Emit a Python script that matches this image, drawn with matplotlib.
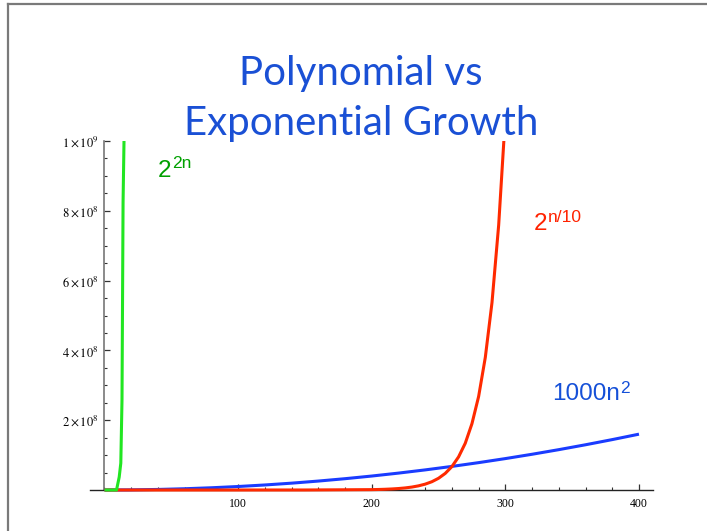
import matplotlib
matplotlib.use("Agg")
import matplotlib.pyplot as plt
from matplotlib.ticker import MultipleLocator, FixedLocator

# Sampled values of the three growth curves
n_exp4 = [0, 9.0, 11.0, 12.2, 13.1, 13.9, 14.6]
v_exp4 = [0, 0, 3.7e7, 7.7e7, 2.58e8, 8.25e8, 1.0e9]

n_exp2 = [0, 100, 150, 200, 205, 210, 215, 220, 225, 230, 235, 240, 245, 250,
          255, 260, 265, 270, 275, 280, 285, 290, 295, 300]
v_exp2 = [1, 1.0e3, 3.3e4, 1.05e6, 1.48e6, 2.10e6, 2.97e6, 4.19e6, 5.93e6,
          8.39e6, 1.19e7, 1.68e7, 2.37e7, 3.36e7, 4.75e7, 6.71e7, 9.49e7,
          1.34e8, 1.90e8, 2.68e8, 3.80e8, 5.37e8, 7.59e8, 1.07e9]

n_poly = [0, 20, 40, 60, 80, 100, 120, 140, 160, 180, 200, 220, 240, 260, 280,
          300, 320, 340, 360, 380, 400]
v_poly = [0, 4e5, 1.6e6, 3.6e6, 6.4e6, 1.0e7, 1.44e7, 1.96e7, 2.56e7, 3.24e7,
          4.0e7, 4.84e7, 5.76e7, 6.76e7, 7.84e7, 9.0e7, 1.024e8, 1.156e8,
          1.296e8, 1.444e8, 1.6e8]

x_ticks = [100, 200, 300, 400]
y_ticks = [2e8, 4e8, 6e8, 8e8, 1e9]
y_tick_labels = [r"$2\times10^{8}$", r"$4\times10^{8}$", r"$6\times10^{8}$",
                 r"$8\times10^{8}$", r"$1\times10^{9}$"]

plt.rcParams["mathtext.fontset"] = "stix"

W, H = 707, 531
fig = plt.figure(figsize=(W / 100, H / 100), dpi=100)
fig.patch.set_facecolor("white")

# slide frame (left and top edges)
frame_kw = dict(color="#7a7a7a", lw=1.6, transform=None)
fig.add_artist(plt.Line2D([8, 8], [0, H - 4], **frame_kw))
fig.add_artist(plt.Line2D([8, W], [H - 4, H - 4], **frame_kw))

x0, x1 = -10.85, 410.5
px_left, px_right, px_top, px_bot = 90, 653, 141, 492
y_bot = -(px_bot - 490) / 349 * 1e9
ax = fig.add_axes([px_left / W, (H - px_bot) / H,
                   (px_right - px_left) / W, (px_bot - px_top) / H])
ax.set_xlim(x0, x1)
ax.set_ylim(y_bot, 1e9)
ax.patch.set_alpha(0)

lw = 2.2
ax.plot(n_poly, v_poly, color="#1a3cff", lw=lw, solid_capstyle="butt", zorder=3)
ax.plot(n_exp2, v_exp2, color="#ff2a00", lw=lw, solid_capstyle="butt", zorder=4)
ax.plot(n_exp4, v_exp4, color="#22e622", lw=lw, solid_capstyle="butt", zorder=5)

for s in ("top", "right"):
    ax.spines[s].set_visible(False)
ax.spines["left"].set_position(("data", 0))
ax.spines["left"].set_bounds(0, 1e9)
ax.spines["left"].set_color("#777777")
ax.spines["left"].set_linewidth(1.2)
ax.spines["bottom"].set_position(("data", 0))
ax.spines["bottom"].set_color("#222222")
ax.spines["bottom"].set_linewidth(1.0)

ax.xaxis.set_major_locator(FixedLocator(x_ticks))
ax.xaxis.set_minor_locator(MultipleLocator(20))
ax.yaxis.set_major_locator(FixedLocator(y_ticks))
ax.yaxis.set_minor_locator(MultipleLocator(5e7))
ax.set_yticklabels(y_tick_labels)
ax.set_xticklabels([str(t) for t in x_ticks])

ax.tick_params(axis="both", which="major", direction="in", length=4,
               width=0.9, color="#333333")
ax.tick_params(axis="y", which="major", labelsize=9, pad=4)
ax.tick_params(axis="x", which="major", labelsize=8.5, pad=6)
ax.tick_params(axis="both", which="minor", direction="in", length=2.5,
               width=0.8, color="#333333")
for lab in ax.get_xticklabels():
    lab.set_fontfamily("Liberation Serif")

# title
title_kw = dict(ha="center", va="baseline", color="#1a50d5",
                fontsize=29, family="Lato", transform=None)
fig.text(361, H - 85, "Polynomial vs", **title_kw)
fig.text(361, H - 135, "Exponential Growth", **title_kw)

# curve labels (base text plus raised exponent)
def power_label(x, y, base, exp, color, exp_dx, exp_dy, exp_size=12.5):
    fig.text(x, H - y, base, color=color, fontsize=17.5, family="Liberation Sans",
             ha="left", va="baseline", transform=None)
    fig.text(x + exp_dx, H - y + exp_dy, exp, color=color, fontsize=exp_size,
             family="Liberation Sans", ha="left", va="baseline", transform=None)

power_label(158, 177, "2", "2n", "#00a000", 14, 9)
power_label(534, 230, "2", "n/10", "#ff2200", 14, 8)
power_label(552, 400, "1000n", "2", "#1550d8", 68, 7)

fig.savefig("out.png", dpi=100, facecolor="white")
